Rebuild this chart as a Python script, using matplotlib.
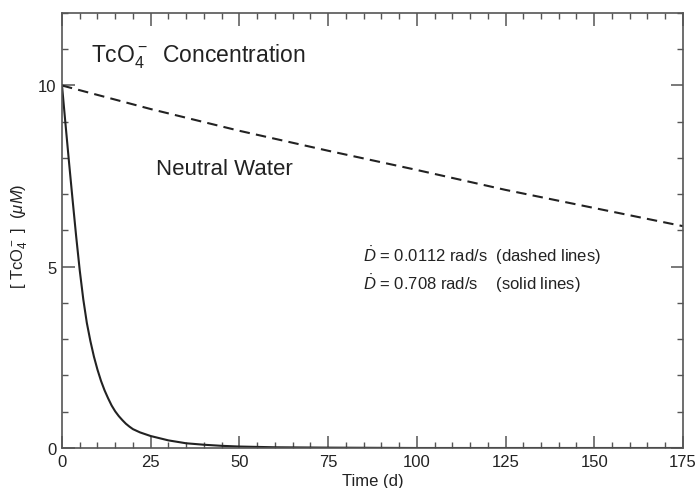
import matplotlib
matplotlib.use('Agg')
import matplotlib.pyplot as plt
from matplotlib.ticker import MultipleLocator

plt.rcParams['font.family'] = ['Liberation Sans', 'DejaVu Sans']
plt.rcParams['mathtext.fontset'] = 'custom'
plt.rcParams['mathtext.rm'] = 'Liberation Sans'
plt.rcParams['mathtext.it'] = 'Liberation Sans:italic'

# TcO4- concentration (uM) vs time (days)
# low dose rate, 0.0112 rad/s
t_low = [0, 25, 50, 75, 100, 125, 150, 175]
c_low = [10.0, 9.35, 8.75, 8.2, 7.67, 7.12, 6.62, 6.12]

# high dose rate, 0.708 rad/s
t_high = [0, 1, 2, 3, 4, 5, 6, 7, 8, 9, 10, 11, 12, 13, 14, 15, 16, 17,
          18, 19, 20, 22, 25, 30, 35, 40, 45, 50, 60, 75, 100, 125, 150, 175]
c_high = [10.0, 8.92, 7.86, 6.83, 5.83, 4.9, 4.1, 3.45, 2.95, 2.52, 2.16,
          1.85, 1.59, 1.37, 1.17, 1.01, 0.88, 0.77, 0.67, 0.59, 0.52, 0.43,
          0.33, 0.21, 0.13, 0.09, 0.06, 0.04, 0.02, 0.01, 0.0, 0.0, 0.0, 0.0]

line_col = '#222222'
axis_col = '#555555'

fig = plt.figure(figsize=(6.99, 4.89), dpi=100)
ax = fig.add_axes([0.0887, 0.0818, 0.977 - 0.0887, 0.9714 - 0.0818])

ax.plot(t_low, c_low, color=line_col, lw=1.5, dashes=(5, 3))
ax.plot(t_high, c_high, color=line_col, lw=1.5)

ax.set_xlim(0, 175)
ax.set_ylim(0, 12)
ax.xaxis.set_major_locator(MultipleLocator(25))
ax.xaxis.set_minor_locator(MultipleLocator(5))
ax.yaxis.set_major_locator(MultipleLocator(5))
ax.yaxis.set_minor_locator(MultipleLocator(1))

ax.tick_params(which='both', direction='in', top=True, right=True,
               color=axis_col, labelsize=12, labelcolor='#222222')
ax.tick_params(which='major', length=9, width=1.1, pad=4)
ax.tick_params(which='minor', length=4.5, width=1.0)
for s in ax.spines.values():
    s.set_color(axis_col)
    s.set_linewidth(1.2)

ax.set_xlabel('Time (d)', fontsize=12, labelpad=3.5, color='#222222')
ax.set_ylabel(r'[ TcO$_4^-$ ]  ($\mu M$)', fontsize=12, color='#222222')
ax.yaxis.set_label_coords(-0.052, 0.49)

ax.text(0.046, 0.8885, r'TcO$_4^-$  Concentration', transform=ax.transAxes,
        fontsize=16.5, va='baseline', ha='left', color='#222222')
ax.text(0.152, 0.630, 'Neutral Water', transform=ax.transAxes,
        fontsize=16, va='baseline', ha='left', color='#222222')
ax.text(0.484, 0.430, r'$\dot{D}$ = 0.0112 rad/s  (dashed lines)',
        transform=ax.transAxes, fontsize=12, va='baseline', ha='left',
        color='#222222')
ax.text(0.484, 0.3655, r'$\dot{D}$ = 0.708 rad/s    (solid lines)',
        transform=ax.transAxes, fontsize=12, va='baseline', ha='left',
        color='#222222')

fig.savefig('out.png', dpi=100)
